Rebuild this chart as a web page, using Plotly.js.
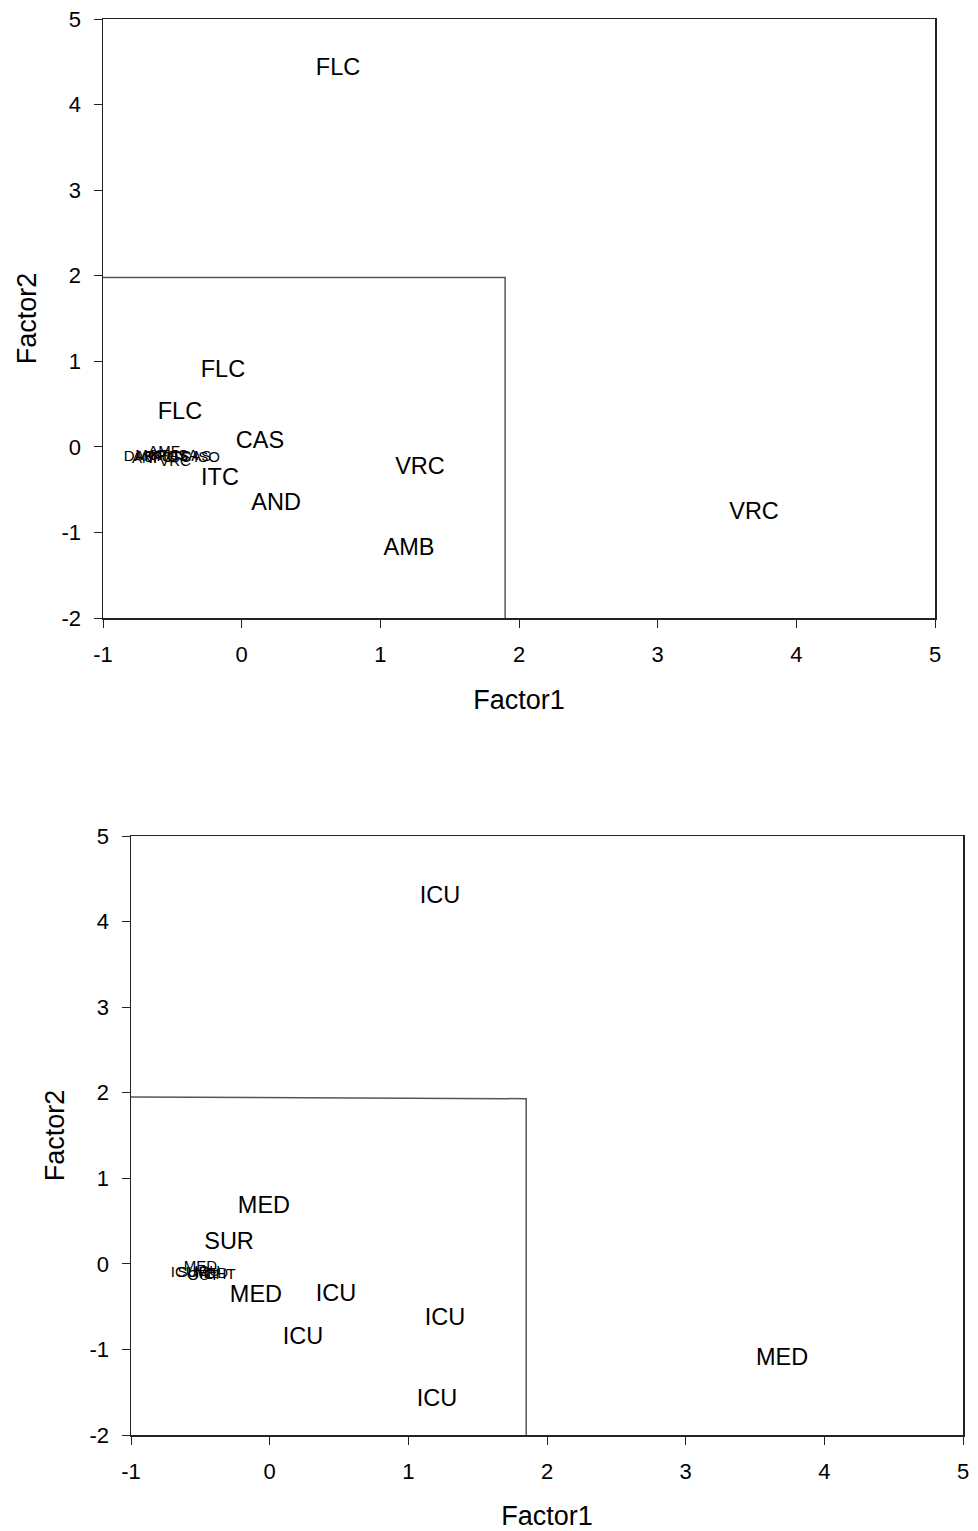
<!DOCTYPE html>
<html>
<head>
<meta charset="utf-8">
<script src="https://cdn.plot.ly/plotly-3.0.1.min.js"></script>
<style>html,body{margin:0;padding:0;background:#fff}#chart{width:978px;height:1531px}</style>
</head>
<body>
<div id="chart"></div>
<script>
// ---- Top panel (drug labels) ----
const topLabels = ["FLC","FLC","FLC","CAS","VRC","ITC","AND","AMB","VRC"];
const topX      = [0.695,-0.135,-0.445,0.132,1.286,-0.156,0.248,1.207,3.695];
const topY      = [4.42,0.89,0.40,0.06,-0.244,-0.372,-0.665,-1.20,-0.78];
// dense cluster (small labels)
const topClusterLabels = ["DAP","ANI","MCF","5FC","AMF","KTC","POS","VRC","ITC","ISA","CAS","ISO"];
const topClusterX      = [-0.74,-0.70,-0.65,-0.60,-0.56,-0.55,-0.50,-0.48,-0.45,-0.40,-0.33,-0.25];
const topClusterY      = [-0.12,-0.14,-0.11,-0.13,-0.06,-0.11,-0.12,-0.18,-0.13,-0.11,-0.12,-0.13];
const topBoxX = [-1, 1.9, 1.9];
const topBoxY = [1.98, 1.98, -2];

// ---- Bottom panel (ward labels) ----
const botLabels = ["ICU","MED","SUR","MED","ICU","ICU","ICU","ICU","MED"];
const botX      = [1.228,-0.041,-0.293,-0.099,0.478,1.264,0.240,1.207,3.695];
const botY      = [4.29,0.668,0.247,-0.372,-0.36,-0.641,-0.863,-1.588,-1.109];
const botClusterLabels = ["ICU","MED","SUR","OUT","ICU","MED","OHT"];
const botClusterX      = [-0.62,-0.50,-0.55,-0.48,-0.45,-0.42,-0.36];
const botClusterY      = [-0.11,-0.04,-0.11,-0.14,-0.10,-0.12,-0.13];
const botBoxX = [-1, 1.85, 1.85];
const botBoxY = [1.95, 1.93, -2];

const ticks = [-1,0,1,2,3,4,5];
const yticks = [-2,-1,0,1,2,3,4,5];
const FONT = "Liberation Sans, Arial, sans-serif";

function textTrace(x,y,t,size,xa,ya){
  return {type:"scatter",mode:"text",x:x,y:y,text:t,textposition:"middle center",
    textfont:{family:FONT,size:size,color:"#000"},xaxis:xa,yaxis:ya,hoverinfo:"none",cliponaxis:false};
}
function boxTrace(x,y,xa,ya){
  return {type:"scatter",mode:"lines",x:x,y:y,line:{color:"#555",width:1.5},xaxis:xa,yaxis:ya,hoverinfo:"none"};
}

const data = [
  boxTrace(topBoxX,topBoxY,"x","y"),
  textTrace(topX,topY,topLabels,23.5,"x","y"),
  textTrace(topClusterX,topClusterY,topClusterLabels,15,"x","y"),
  boxTrace(botBoxX,botBoxY,"x2","y2"),
  textTrace(botX,botY,botLabels,23.5,"x2","y2"),
  textTrace(botClusterX,botClusterY,botClusterLabels,15,"x2","y2")
];

function xax(domain,anchor){
  return {domain:domain,anchor:anchor,range:[-1,5],tickvals:ticks,ticktext:ticks.map(String),
    showline:true,mirror:true,linecolor:"#222",linewidth:1.5,ticks:"outside",ticklen:8,tickcolor:"#222",
    ticklabelstandoff:8,
    showgrid:false,zeroline:false,tickfont:{family:FONT,size:22,color:"#000"},
    title:{text:"Factor1",font:{family:FONT,size:27,color:"#000"},standoff:24}};
}
function yax(domain,anchor){
  return {domain:domain,anchor:anchor,range:[-2,5],tickvals:yticks,ticktext:yticks.map(String),
    showline:true,mirror:true,linecolor:"#222",linewidth:1.5,ticks:"outside",ticklen:8,tickcolor:"#222",
    ticklabelstandoff:8,
    showgrid:false,zeroline:false,tickfont:{family:FONT,size:22,color:"#000"},
    title:{text:"Factor2",font:{family:FONT,size:27,color:"#000"},standoff:17}};
}

const layout = {
  width:978,height:1531,showlegend:false,
  margin:{l:0,r:0,t:0,b:0},
  paper_bgcolor:"#fff",plot_bgcolor:"#fff",
  xaxis:xax([103/978,935/978],"y"),
  yaxis:yax([1-618/1531,1-19/1531],"x"),
  xaxis2:xax([131/978,963/978],"y2"),
  yaxis2:yax([1-1435/1531,1-836/1531],"x2")
};
Plotly.newPlot("chart",data,layout,{staticPlot:true,displayModeBar:false});
</script>
</body>
</html>
